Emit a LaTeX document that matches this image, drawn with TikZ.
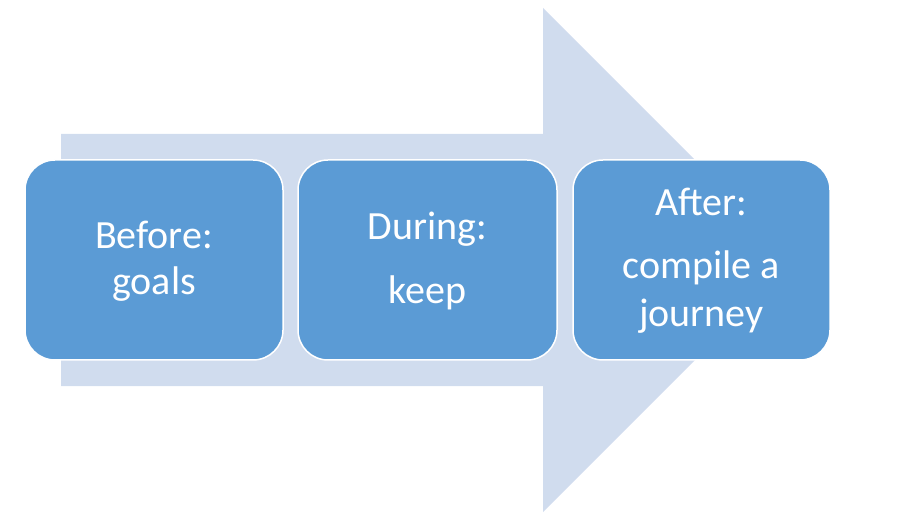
\documentclass[tikz,border=0pt]{standalone}
\usepackage{fontspec}
\setmainfont{Carlito}
\definecolor{arrowfill}{HTML}{D0DCEE}
\definecolor{boxfill}{HTML}{5B9BD5}
\begin{document}
\begin{tikzpicture}[x=1pt,y=-1pt,
  stagebox/.style={draw=white,line width=1.5pt,fill=boxfill,rounded corners=30pt},
  lbl/.style={anchor=base,text=white,font=\fontsize{40}{48}\selectfont,inner sep=0pt}]
\useasboundingbox (0,0) rectangle (902,518);
% big arrow
\fill[arrowfill] (61,134) -- (543,134) -- (543,8) -- (795,260) -- (543,512) -- (543,386) -- (61,386) -- cycle;
% boxes
\draw[stagebox] (25,160) rectangle (283,360);
\draw[stagebox] (298,160) rectangle (557,360);
\draw[stagebox] (573,160) rectangle (830,360);
% labels
\node[lbl] (b1) at (154,249) {Before:};
\node[lbl] (b2) at (154,295) {goals};
\node[lbl] (d1) at (427.5,240) {During:};
\node[lbl] (d2) at (427.5,304) {keep};
\node[lbl] (a1) at (701.5,216) {After:};
\node[lbl] (a2) at (701.5,279) {compile a};
\node[lbl] (a3) at (701.5,327) {journey};
\end{tikzpicture}
\end{document}
